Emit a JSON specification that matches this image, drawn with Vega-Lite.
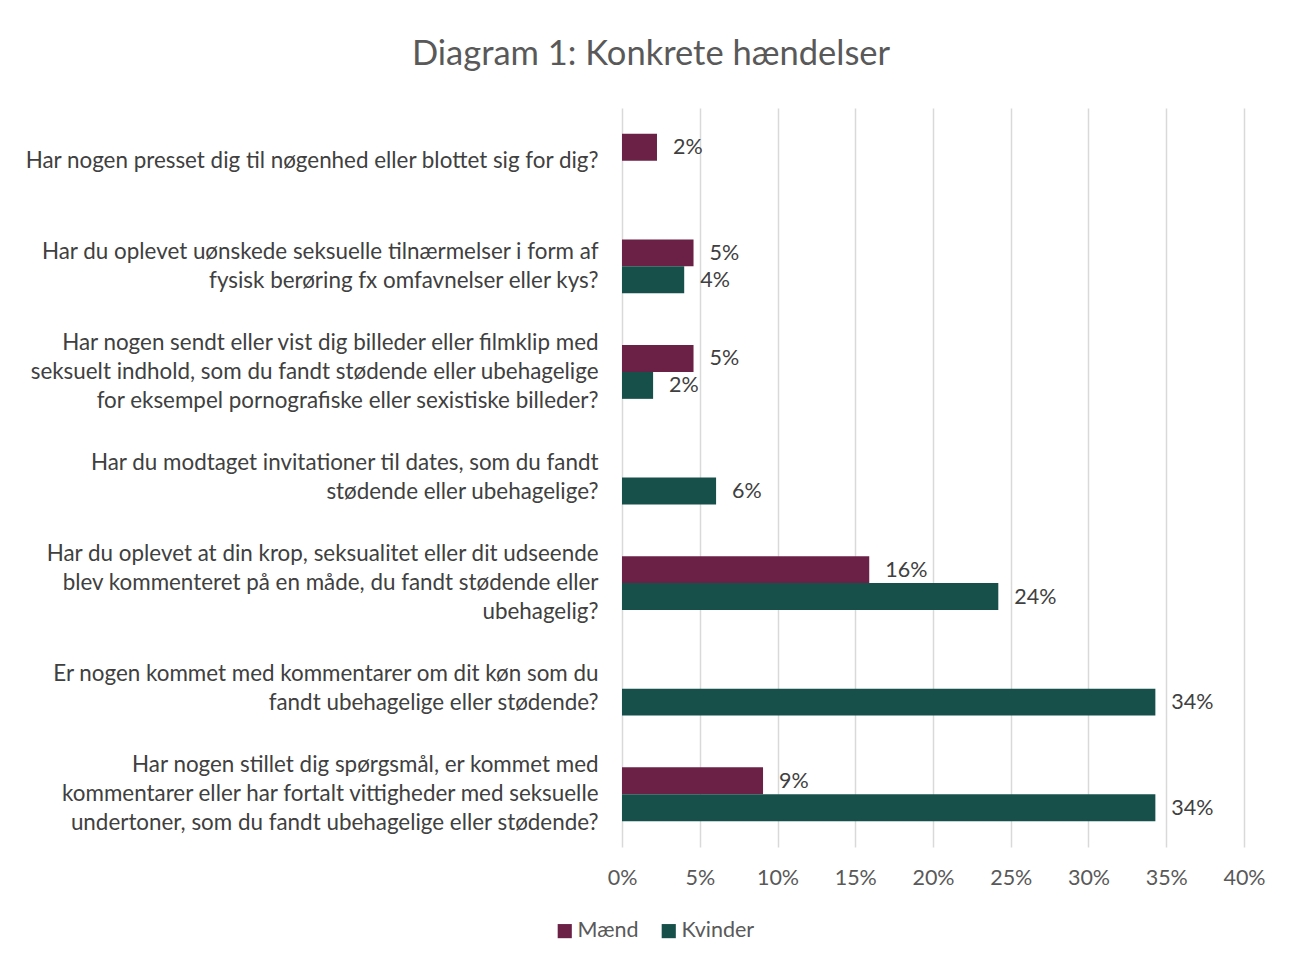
{
  "$schema": "https://vega.github.io/schema/vega-lite/v6.json",
  "autosize": {"type": "none"},
  "width": 622,
  "height": 739,
  "padding": {"left": 622, "top": 108, "right": 54, "bottom": 116},
  "background": "white",
  "title": {
    "text": "Diagram 1: Konkrete hændelser",
    "font": "Lato",
    "fontSize": 34.5,
    "fontWeight": "normal",
    "color": "#595959",
    "anchor": "middle",
    "dx": -282,
    "offset": 36
  },
  "config": {
    "view": {"stroke": null},
    "font": "Lato"
  },
  "data": {
    "values": [
      {"q": "Har nogen presset dig til nøgenhed eller blottet sig for dig?", "køn": "Mænd", "andel": 0.0225},
      {"q": "Har du oplevet uønskede seksuelle tilnærmelser i form af|fysisk berøring fx omfavnelser eller kys?", "køn": "Mænd", "andel": 0.046},
      {"q": "Har du oplevet uønskede seksuelle tilnærmelser i form af|fysisk berøring fx omfavnelser eller kys?", "køn": "Kvinder", "andel": 0.04},
      {"q": "Har nogen sendt eller vist dig billeder eller filmklip med|seksuelt indhold, som du fandt stødende eller ubehagelige|for eksempel pornografiske eller sexistiske billeder?", "køn": "Mænd", "andel": 0.046},
      {"q": "Har nogen sendt eller vist dig billeder eller filmklip med|seksuelt indhold, som du fandt stødende eller ubehagelige|for eksempel pornografiske eller sexistiske billeder?", "køn": "Kvinder", "andel": 0.02},
      {"q": "Har du modtaget invitationer til dates, som du fandt|stødende eller ubehagelige?", "køn": "Kvinder", "andel": 0.0605},
      {"q": "Har du oplevet at din krop, seksualitet eller dit udseende|blev kommenteret på en måde, du fandt stødende eller|ubehagelig?", "køn": "Mænd", "andel": 0.159},
      {"q": "Har du oplevet at din krop, seksualitet eller dit udseende|blev kommenteret på en måde, du fandt stødende eller|ubehagelig?", "køn": "Kvinder", "andel": 0.242},
      {"q": "Er nogen kommet med kommentarer om dit køn som du|fandt ubehagelige eller stødende?", "køn": "Kvinder", "andel": 0.343},
      {"q": "Har nogen stillet dig spørgsmål, er kommet med|kommentarer eller har fortalt vittigheder med seksuelle|undertoner, som du fandt ubehagelige eller stødende?", "køn": "Mænd", "andel": 0.0907},
      {"q": "Har nogen stillet dig spørgsmål, er kommet med|kommentarer eller har fortalt vittigheder med seksuelle|undertoner, som du fandt ubehagelige eller stødende?", "køn": "Kvinder", "andel": 0.343}
    ]
  },
  "encoding": {
    "y": {
      "field": "q",
      "type": "nominal",
      "sort": null,
      "title": null,
      "scale": {"paddingInner": 0.49, "paddingOuter": 0.245},
      "axis": {
        "domain": false,
        "ticks": false,
        "grid": false,
        "labelExpr": "split(datum.label, '|')",
        "labelAlign": "right",
        "labelBaseline": "middle",
        "labelOffset": {"expr": "-(length(split(datum.label, '|')) - 1) * 14.5"},
        "labelPadding": 24,
        "labelFontSize": 22.4,
        "labelLineHeight": 29,
        "labelColor": "#404040",
        "labelFont": "Lato",
        "labelLimit": 700,
        "minExtent": 600,
        "maxExtent": 600
      }
    },
    "yOffset": {"field": "køn", "type": "nominal", "sort": ["Mænd", "Kvinder"]},
    "x": {
      "field": "andel",
      "type": "quantitative",
      "title": null,
      "scale": {"domain": [0, 0.4], "nice": false},
      "axis": {
        "format": ".0%",
        "values": [0, 0.05, 0.1, 0.15, 0.2, 0.25, 0.3, 0.35, 0.4],
        "domain": false,
        "ticks": false,
        "grid": true,
        "gridColor": "#D9D9D9",
        "gridWidth": 1.5,
        "labelFlush": false,
        "labelOverlap": false,
        "labelFontSize": 21.5,
        "labelColor": "#595959",
        "labelFont": "Lato",
        "labelPadding": 20
      }
    }
  },
  "layer": [
    {
      "mark": {"type": "bar"},
      "encoding": {
        "color": {
          "field": "køn",
          "type": "nominal",
          "sort": ["Mænd", "Kvinder"],
          "scale": {"domain": ["Mænd", "Kvinder"], "range": ["#6B2046", "#17504A"]},
          "legend": {
            "title": null,
            "orient": "none",
            "direction": "horizontal",
            "legendX": -68,
            "legendY": 812,
            "symbolType": "square",
            "symbolSize": 200,
            "symbolStrokeWidth": 0,
            "labelFontSize": 21.5,
            "labelColor": "#595959",
            "labelFont": "Lato",
            "labelOffset": 2,
            "columnPadding": 19
          }
        }
      }
    },
    {
      "mark": {"type": "text", "align": "left", "baseline": "middle", "dx": 16, "dy": 1, "fontSize": 21.5, "color": "#404040", "font": "Lato"},
      "encoding": {
        "text": {"field": "andel", "type": "quantitative", "format": ".0%"}
      }
    }
  ]
}
